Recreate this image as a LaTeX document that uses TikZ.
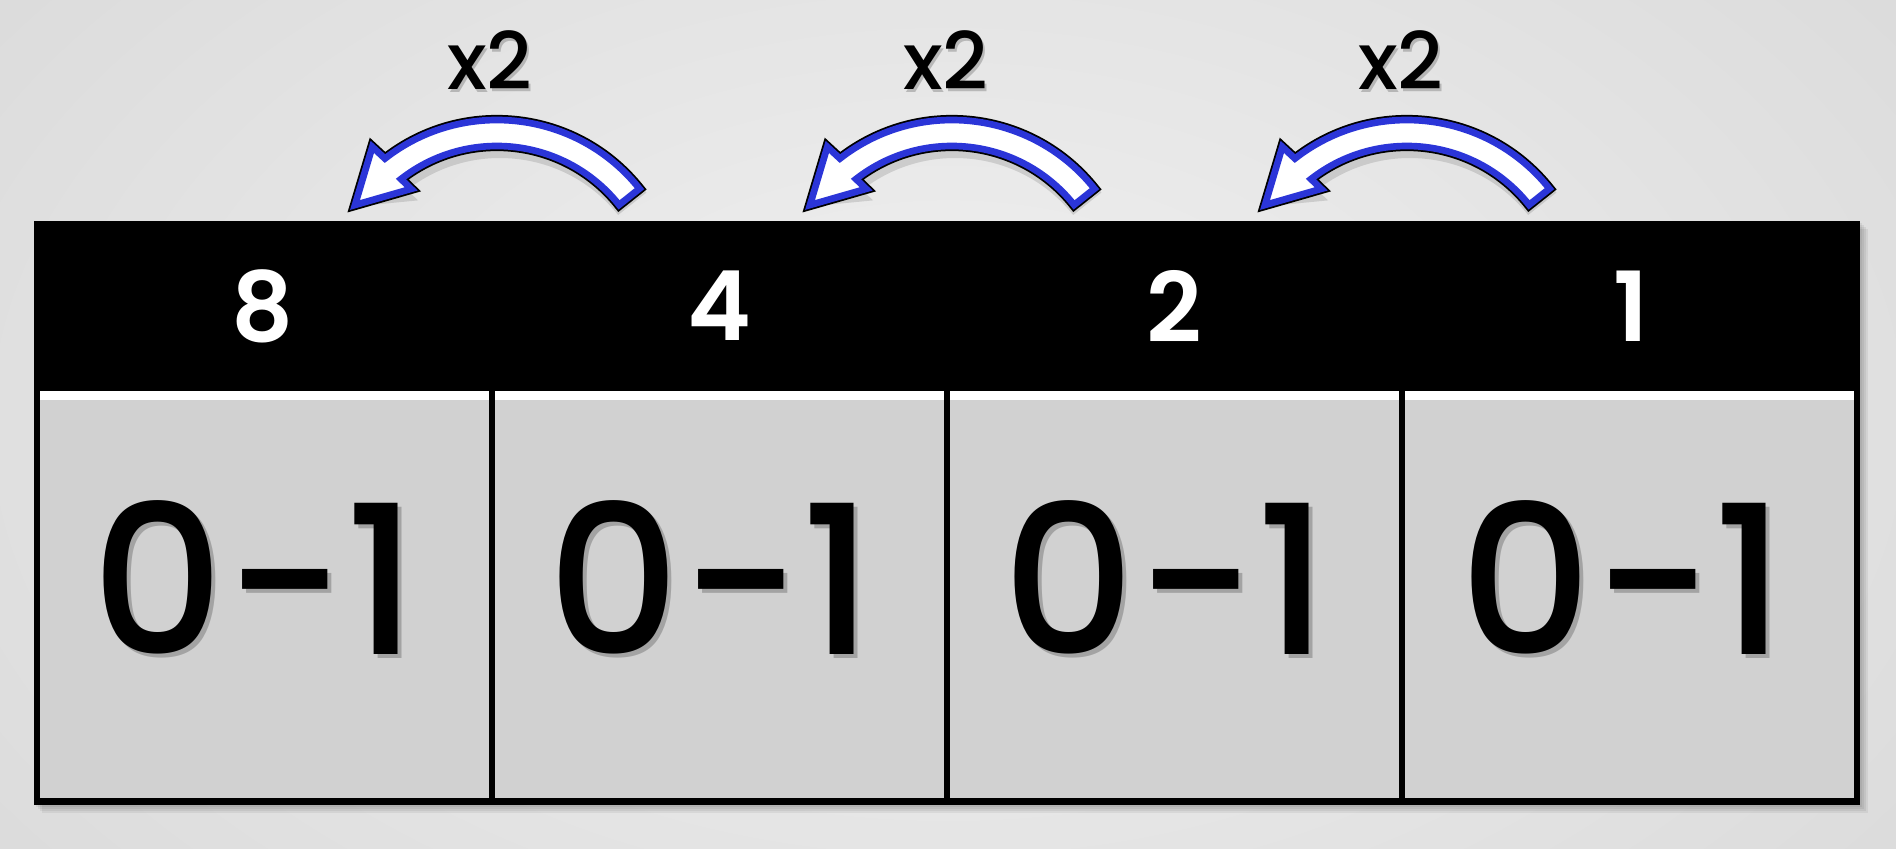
\documentclass[tikz,border=0pt]{standalone}
\usepackage{fontspec}
\newfontfamily\digfont{Poppins SemiBold}
\newfontfamily\labfont{Poppins Medium}
\definecolor{bgin}{HTML}{F1F1F1}
\definecolor{bgout}{HTML}{DCDCDC}
\definecolor{cellgrey}{HTML}{D1D1D1}
\definecolor{arrowblue}{HTML}{2B35D8}
\tikzset{
  headnum/.style={text=white, font=\digfont\fontsize{27.5}{30}\selectfont, inner sep=0pt},
  bignum/.style={text=black, font=\labfont\fontsize{59}{64}\selectfont, inner sep=0pt},
  bignumshadow/.style={text=black, opacity=0.22, font=\labfont\fontsize{59}{64}\selectfont, inner sep=0pt},
  timeslabel/.style={text=black, font=\labfont\fontsize{22.5}{24}\selectfont, inner sep=0pt},
  timesshadow/.style={text=black, opacity=0.2, font=\labfont\fontsize{22.5}{24}\selectfont, inner sep=0pt},
  cellbox/.style={fill=cellgrey},
  arrowbody/.style={fill=white, draw=arrowblue, line width=1.9pt, line join=miter,
     preaction={draw=black, line width=2.9pt, line join=miter}},
  arrowshadow/.style={fill=black, opacity=0.12},
}
\begin{document}
\begin{tikzpicture}[x=0.01cm,y=0.01cm]
\useasboundingbox (0,0) rectangle (1896,848);
\shade[inner color=bgin, outer color=bgout] (-200,-300) rectangle (2096,1148);
% drop shadow of table
\foreach \d in {2,4,6,8} {
  \fill[black,opacity=0.06] (34+\d,43-\d) rectangle (1860+\d,627-\d);
}
% table frame
\fill[black] (34,43) rectangle (1860,627);
% cells
\foreach \xl/\xr [count=\i] in {40/488.5, 494.5/944, 950/1398.5, 1404.5/1854} {
  \fill[white] (\xl,448) rectangle (\xr,457);
  \fill[cellbox] (\xl,50) rectangle (\xr,448);
}
% header numbers
\node[headnum] (h8) at (263,542) {8};
\node[headnum] (h4) at (719,542) {4};
\node[headnum] (h2) at (1174,542) {2};
\node[headnum] (h1) at (1631,542) {1};
% cell texts
\foreach \cx [count=\i] in {255, 711, 1166, 1623} {
  \node[bignumshadow] (s\i) at (\cx+4,270-4) {0-1};
  \node[bignum] (c\i) at (\cx,270) {0-1};
}
% arrows and labels
\foreach \ax/\lx [count=\i] in {497/490, 952/946, 1407/1401} {
  \begin{scope}[shift={(\ax+3,546-7)}]
    \fill[arrowshadow] (38.5:187) arc[start angle=38.5,end angle=128,radius=187]
      -- (129:205) -- (-150,102) -- (127:136) -- (128:151)
      arc[start angle=128,end angle=38.5,radius=151] -- cycle;
  \end{scope}
  \begin{scope}[shift={(\ax,546)}]
    \path[arrowbody] (38.5:182) arc[start angle=38.5,end angle=128,radius=182]
      -- (128.8:199) -- (-142,97) -- (127.2:142) -- (128:156)
      arc[start angle=128,end angle=38.5,radius=156] -- cycle;
  \end{scope}
  \node[timesshadow] (xs\i) at (\lx+2,788-3) {x2};
  \node[timeslabel] (x\i) at (\lx,788) {x2};
}
\end{tikzpicture}
\end{document}
